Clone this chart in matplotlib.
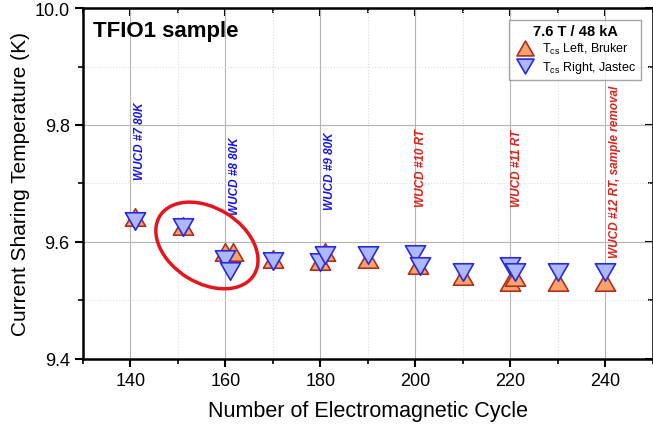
import matplotlib
matplotlib.use('Agg')
import matplotlib.pyplot as plt
from matplotlib.patches import Ellipse
from matplotlib.path import Path
from matplotlib.transforms import ScaledTranslation

plt.rcParams['font.family'] = ['Liberation Sans', 'DejaVu Sans']

# Tcs left (Bruker) - up triangles
bruker_cycle = [141, 151, 160, 161.5, 170, 180, 181, 190, 200.5, 210, 220, 221, 230, 240]
bruker_tcs = [9.643, 9.628, 9.583, 9.583, 9.571, 9.568, 9.583, 9.571, 9.561, 9.542, 9.532, 9.540, 9.532, 9.532]

# Tcs right (Jastec) - down triangles
jastec_cycle = [141, 151, 160, 161, 170, 180, 181, 190, 200, 201, 210, 220, 221, 230, 240]
jastec_tcs = [9.635, 9.626, 9.571, 9.550, 9.568, 9.566, 9.577, 9.577, 9.579, 9.558, 9.548, 9.558, 9.548, 9.548, 9.548]

# warm-up / cool-down notes
note_x = [142.1, 162.1, 182.1, 201.2, 221.3, 241.9]
note_y = [9.708, 9.648, 9.656, 9.662, 9.662, 9.574]
note_text = ["WUCD #7 80K", "WUCD #8 80K", "WUCD #9 80K",
             "WUCD #10 RT", "WUCD #11 RT", "WUCD #12 RT, sample removal"]
note_color = ['#1414F0', '#1414F0', '#1414F0', '#E0201A', '#E0201A', '#E0201A']

fig = plt.figure(figsize=(6.53, 4.31), dpi=100)
ax = fig.add_axes([0.127, 0.165, 0.873, 0.814])

# equilateral triangles centred on their bounding box (Origin style)
up_tri = Path([(0, 0.866), (-1, -0.866), (1, -0.866), (0, 0.866)], closed=True)
down_tri = Path([(0, -0.866), (-1, 0.866), (1, 0.866), (0, -0.866)], closed=True)
ax.plot(bruker_cycle, bruker_tcs, linestyle='none', marker=up_tri, ms=14.5,
        mfc='#F4A46C', mec='#B0301C', mew=1.2, label=r'T$_\mathregular{cs}$ Left, Bruker')
ax.plot(jastec_cycle, jastec_tcs, linestyle='none', marker=down_tri, ms=14.5,
        mfc='#AEB8FF', mec='#2A2ADF', mew=1.2, label=r'T$_\mathregular{cs}$ Right, Jastec')

for x, y, s, c in zip(note_x, note_y, note_text, note_color):
    ax.text(x, y, s, rotation=90, ha='center', va='bottom', color=c,
            fontsize=8.5, fontweight='bold', style='italic')

# highlight ellipse around cycles 150-160
ell_tr = fig.dpi_scale_trans + ScaledTranslation(156.1, 9.594, ax.transData)
ax.add_patch(Ellipse((0, 0), 1.11, 0.75, angle=-32, transform=ell_tr,
                     fill=False, edgecolor='#E8141C', lw=2.5, zorder=5))

ax.text(0.018, 0.965, "TFIO1 sample", transform=ax.transAxes, ha='left', va='top',
        fontsize=16, fontweight='bold')

ax.set_xlim(130, 250)
ax.set_ylim(9.4, 10.0)
ax.set_xticks(range(140, 241, 20))
ax.set_xticks(range(130, 251, 10), minor=True)
ax.set_yticks([9.4, 9.6, 9.8, 10.0])
ax.set_yticks([9.5, 9.7, 9.9], minor=True)
ax.set_yticklabels(['9.4', '9.6', '9.8', '10.0'])

ax.grid(which='major', color='#b4b4b4', linewidth=0.8)
ax.grid(which='minor', color='#dcdcdc', linewidth=0.8, linestyle=':')
ax.set_axisbelow(True)

ax.tick_params(which='major', direction='out', length=6, width=1.5, labelsize=13)
ax.tick_params(which='minor', direction='out', length=3.5, width=1.2)
for sp in ax.spines.values():
    sp.set_linewidth(1.8)

top = ax.secondary_xaxis('top')
top.set_xticks(range(140, 241, 20))
top.set_xticks(range(130, 251, 10), minor=True)
top.tick_params(which='major', direction='in', length=6, width=1.5, labeltop=False)
top.tick_params(which='minor', direction='in', length=3.5, width=1.2)
right = ax.secondary_yaxis('right')
right.set_yticks([9.4, 9.6, 9.8, 10.0])
right.set_yticks([9.5, 9.7, 9.9], minor=True)
right.tick_params(which='major', direction='in', length=6, width=1.5, labelright=False)
right.tick_params(which='minor', direction='in', length=3.5, width=1.2)

ax.set_xlabel("Number of Electromagnetic Cycle", fontsize=15.5, labelpad=8)
ax.set_ylabel("Current Sharing Temperature (K)", fontsize=15, labelpad=3)

leg = ax.legend(loc='upper right', bbox_to_anchor=(0.99, 0.985), title="7.6 T / 48 kA",
                numpoints=1, fontsize=9, fancybox=False, edgecolor='#909090',
                handletextpad=0.5, borderpad=0.35, labelspacing=0.25, markerscale=0.85,
                handlelength=1.8)
leg.get_title().set_fontweight('bold')
leg.get_title().set_fontsize(10.5)
leg.get_frame().set_linewidth(1.0)

fig.savefig("out.png", dpi=100)
